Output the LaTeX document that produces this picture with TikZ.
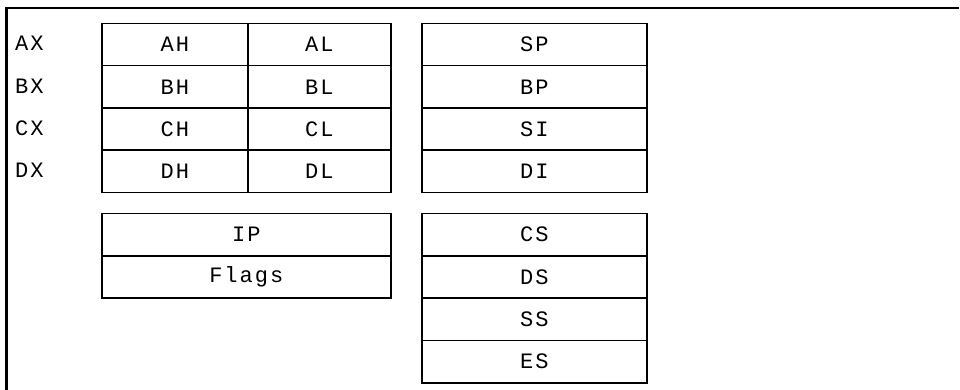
\documentclass[tikz,border=0pt]{standalone}
\usepackage{fontspec}
\setmonofont[LetterSpace=9]{Liberation Mono}
\begin{document}
\begin{tikzpicture}[x=1pt,y=-1pt,
  cell/.style={draw=black,line width=1.6pt,rectangle,inner sep=0pt,
    minimum height=42.3pt,anchor=north west,font=\ttfamily\fontsize{22}{26}\selectfont},
  narrow/.style={cell,minimum width=146pt},
  halfr/.style={cell,minimum width=143pt},
  wide/.style={cell,minimum width=289pt},
  seg/.style={cell,minimum width=225pt},
  lab/.style={anchor=west,inner sep=0pt,font=\ttfamily\fontsize{22}{26}\selectfont},
  frame/.style={line width=2.2pt,line cap=rect}]
\useasboundingbox (0,0) rectangle (960,389);
% frame
\coordinate (fb) at (6.5,392);
\coordinate (ftl) at (6.5,8);
\coordinate (ftr) at (958,8);
\draw[frame] (fb) -- (ftl) -- (ftr);
% general registers
\foreach \r/\i in {A/0,B/1,C/2,D/3}{
  \node[narrow] (\r H) at (101,22.5+42.3*\i) {\r H};
  \node[halfr] (\r L) at (247,22.5+42.3*\i) {\r L};
  \node[lab] (\r X) at (15,43.65+42.3*\i) {\r X};
}
% index / pointer
\foreach \n/\i in {SP/0,BP/1,SI/2,DI/3}{
  \node[seg] (\n) at (421,22.5+42.3*\i) {\n};
}
% IP / Flags
\node[wide] (IP) at (101,212.7) {IP};
\node[wide] (Flags) at (101,255) {Flags};
% segment registers
\foreach \n/\i in {CS/0,DS/1,SS/2,ES/3}{
  \node[seg] (\n) at (421,212.7+42.3*\i) {\n};
}
\end{tikzpicture}
\end{document}
